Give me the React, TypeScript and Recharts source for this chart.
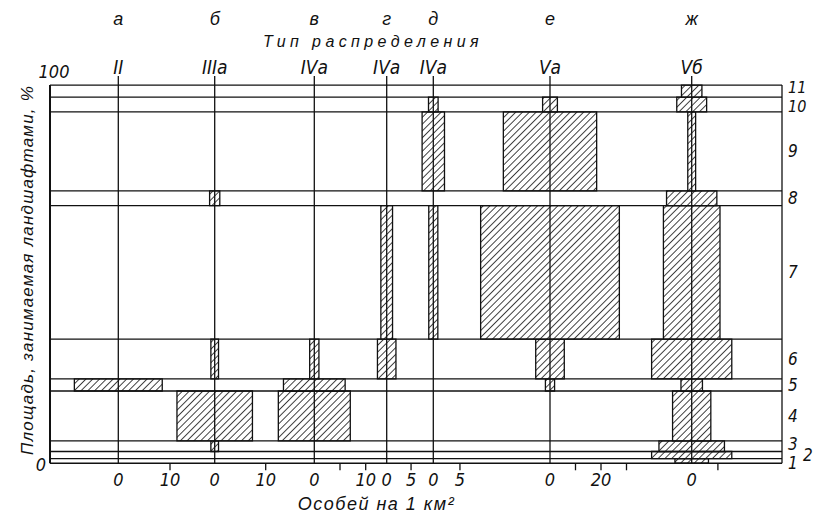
import React from 'react';
import { ComposedChart, XAxis, YAxis, ReferenceArea, ReferenceLine, Label } from 'recharts';

// ---------- DATA ----------
const bandNames = ['1', '2', '3', '4', '5', '6', '7', '8', '9', '10', '11'];
// cumulative share of area (%) : band boundaries from bottom to top
const bandBounds = [0, 1.2, 3.1, 5.9, 19.1, 22.3, 32.8, 68.1, 72.0, 92.9, 96.8, 100];
const columnLetters = ['а', 'б', 'в', 'г', 'д', 'е', 'ж'];
const distributionTypes = ['II', 'IIIа', 'IVа', 'IVа', 'IVа', 'Vа', 'Vб'];

// density (individuals per km²), drawn symmetrically around the column's zero; one value per band 1..11
const densityA = [null, null, null, null, 8.5, null, null, null, null, null, null];
const densityB = [null, null, 0.75, 7.4, null, 0.75, null, 1.0, null, null, null];
const densityV = [null, null, null, 7.0, 6.0, 0.9, null, null, null, null, null];
const densityG = [null, null, null, null, null, 1.9, 1.2, null, null, null, null];
const densityD = [null, null, null, null, null, null, 0.85, null, 2.1, 0.9, null];
const densityE = [null, null, null, null, 1.8, 5.6, 27.2, null, 18.3, 2.9, null];
const densityZh = [6.4, 15.3, 12.5, 7.3, 4.1, 15.3, 10.8, 9.6, 1.5, 5.7, 3.9];
const densities = [densityA, densityB, densityV, densityG, densityD, densityE, densityZh];

const ticksA = [0, 10];
const ticksB = [0, 10];
const ticksV = [0, 5, 10];
const ticksG = [0, 5];
const ticksD = [0, 5];
const ticksE = [0, 10, 20, 30];
const ticksZh = [0, 10];
const tickLabelsA = ['0', '10'];
const tickLabelsB = ['0', '10'];
const tickLabelsV = ['0', '', '10'];
const tickLabelsG = ['0', '5'];
const tickLabelsD = ['0', '5'];
const tickLabelsE = ['0', '', '20', ''];
const tickLabelsZh = ['0', ''];
const columnTicks = [ticksA, ticksB, ticksV, ticksG, ticksD, ticksE, ticksZh];
const columnTickLabels = [tickLabelsA, tickLabelsB, tickLabelsV, tickLabelsG, tickLabelsD, tickLabelsE, tickLabelsZh];

const yTicks = [0, 100];
const xTitle = 'Особей на 1 км²';
const yTitle = 'Площадь, занимаемая ландшафтами, %';
const topTitle = 'Тип распределения';

const chartRows = bandNames.map((name, i) => ({ band: name, lo: bandBounds[i], hi: bandBounds[i + 1] }));

// ---------- LAYOUT ----------
const W = 814;
const H = 513;
const PLOT_L = 50;
const PLOT_R = 782;
const PLOT_T = 76;
const PLOT_B = 463.3;
const Y_TOP = 102.4;
const AX_THIN = 0.01;
// each column: pixel of its zero line and pixels per unit
const columnScale = [
  { zero: 118.3, k: 5.17 },
  { zero: 214.7, k: 5.1 },
  { zero: 314.3, k: 5.14 },
  { zero: 386.7, k: 4.87 },
  { zero: 433.3, k: 5.33 },
  { zero: 550, k: 2.55 },
  { zero: 691.7, k: 2.62 },
];
const colDomain = (i: number): [number, number] => {
  const { zero, k } = columnScale[i];
  return [(PLOT_L - zero) / k, (PLOT_R - zero) / k];
};
// small vertical nudges of crowded band labels
const bandLabelDy: Record<string, number> = { '11': -4, '10': 2, '3': -2, '1': 2 };

const INK = '#111';
const NARROW = "'Liberation Sans Narrow', 'Arial Narrow', 'DejaVu Sans Condensed', 'Liberation Sans', sans-serif";
const SANS = "'Liberation Sans', Arial, sans-serif";

const makeColTick = (ticks: number[], labels: string[]) => (p: any) => {
  const v = p.payload?.value;
  const i = ticks.indexOf(v);
  const lab = i >= 0 ? labels[i] : '';
  const axisY = p.y - 8;
  return (
    <g>
      {v !== 0 && <line x1={p.x} x2={p.x} y1={axisY} y2={axisY + 7} stroke={INK} strokeWidth={1.3} />}
      {lab ? (
        <text x={p.x} y={p.y + 15} textAnchor="middle" fontFamily={NARROW} fontStyle="italic" fontSize={18} fill={INK}>
          {lab}
        </text>
      ) : null}
    </g>
  );
};

const yTick = (p: any) => {
  const v = p.payload?.value;
  if (v === 100) {
    return (
      <text x={p.x + 12} y={p.y - 7} textAnchor="middle" fontFamily={NARROW} fontStyle="italic" fontSize={18} fill={INK}>
        100
      </text>
    );
  }
  return (
    <text x={p.x + 4} y={p.y + 8} textAnchor="end" fontFamily={NARROW} fontStyle="italic" fontSize={18} fill={INK}>
      {String(v)}
    </text>
  );
};

export default function App() {
  const colIds = columnLetters.map((_, i) => `c${i}`);
  return (
    <div style={{ position: 'absolute', left: 0, top: 0, width: W, height: H, background: '#fff' }}>
      <ComposedChart
        width={W}
        height={H}
        data={chartRows}
        margin={{ top: PLOT_T, right: W - PLOT_R, bottom: H - PLOT_B, left: PLOT_L - AX_THIN }}
      >
        <defs>
          <pattern id="hatch" patternUnits="userSpaceOnUse" width={4.8} height={4.8} patternTransform="rotate(45)">
            <rect x={0} y={0} width={4.8} height={4.8} fill="#fff" />
            <line x1={2.4} y1={0} x2={2.4} y2={4.8} stroke="#222" strokeWidth={0.85} />
          </pattern>
        </defs>

        <YAxis
          dataKey="lo"
          type="number"
          domain={[0, Y_TOP]}
          allowDataOverflow
          ticks={yTicks}
          width={AX_THIN}
          axisLine={false}
          tickLine={false}
          tickSize={6}
          tickMargin={2}
          tick={yTick}
        />
        <XAxis xAxisId="frame" dataKey="lo" type="number" domain={[0, 1]} allowDataOverflow hide />
        {colIds.map((id, i) => (
          <XAxis
            key={id}
            xAxisId={id}
            dataKey="lo"
            type="number"
            domain={colDomain(i)}
            allowDataOverflow
            ticks={columnTicks[i]}
            interval={0}
            height={AX_THIN}
            axisLine={false}
            tickLine={false}
            tickSize={6}
            tickMargin={2}
            tick={makeColTick(columnTicks[i], columnTickLabels[i])}
          />
        ))}

        {/* band areas with right-hand labels */}
        {bandNames.map((name, b) => (
          <ReferenceArea
            key={`band${b}`}
            xAxisId="frame"
            x1={0}
            x2={1}
            y1={bandBounds[b]}
            y2={bandBounds[b + 1]}
            fill="none"
            fillOpacity={0}
            stroke="none"
          >
            <Label
              value={name}
              position="right"
              offset={name === '2' ? 21 : 6}
              dy={bandLabelDy[name] ?? 0}
              fontFamily={NARROW}
              fontStyle="italic"
              fontSize={name === '11' || name === '10' ? 16 : 17}
              fill={INK}
            />
          </ReferenceArea>
        ))}

        {/* density bars */}
        {densities.map((col, i) =>
          col.map((v, b) =>
            v == null ? null : (
              <ReferenceArea
                key={`bar${i}-${b}`}
                xAxisId={colIds[i]}
                x1={-v}
                x2={v}
                y1={bandBounds[b]}
                y2={bandBounds[b + 1]}
                fill="url(#hatch)"
                fillOpacity={1}
                stroke={INK}
                strokeWidth={1.3}
              />
            )
          )
        )}

        {/* band boundaries */}
        {bandBounds.map((y, j) => (
          <ReferenceLine key={`bl${j}`} xAxisId="frame" y={y} stroke={INK} strokeWidth={1.3} />
        ))}
        <ReferenceLine
          xAxisId="frame"
          segment={[{ x: 0, y: 0 }, { x: 0, y: 100 }]}
          stroke={INK}
          strokeWidth={2}
        />
        <ReferenceLine
          xAxisId="frame"
          segment={[{ x: 1, y: 0 }, { x: 1, y: 100 }]}
          stroke={INK}
          strokeWidth={1.3}
        />

        {/* column zero lines with type and letter labels */}
        {colIds.map((id, i) => (
          <ReferenceLine
            key={`zl${i}`}
            xAxisId={id}
            segment={[{ x: 0, y: 0 }, { x: 0, y: Y_TOP }]}
            stroke={INK}
            strokeWidth={1.3}
          >
            <Label
              value={distributionTypes[i]}
              position="top"
              offset={2}
              fontFamily={NARROW}
              fontStyle="italic"
              fontSize={19}
              fill={INK}
            />
            <Label
              value={columnLetters[i]}
              position="top"
              offset={51}
              fontFamily={SANS}
              fontStyle="italic"
              fontSize={18}
              fill={INK}
            />
          </ReferenceLine>
        ))}

        <text x={373} y={46.5} textAnchor="middle" fontFamily={SANS} fontStyle="italic" fontSize={16} letterSpacing={4.4} fill={INK}>
          {topTitle}
        </text>
        <text x={376.5} y={510} textAnchor="middle" fontFamily={SANS} fontStyle="italic" fontSize={18} letterSpacing={1.5} fill={INK}>
          {xTitle}
        </text>
        <text
          x={33}
          y={270}
          textAnchor="middle"
          transform="rotate(-90 33 270)"
          fontFamily={SANS}
          fontStyle="italic"
          fontSize={17}
          letterSpacing={1.2}
          fill={INK}
        >
          {yTitle}
        </text>
      </ComposedChart>
    </div>
  );
}
